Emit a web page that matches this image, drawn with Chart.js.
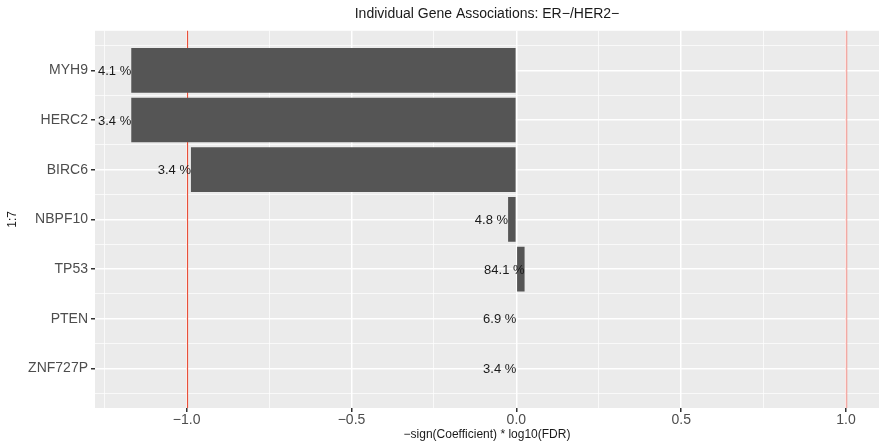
<!DOCTYPE html>
<html>
<head>
<meta charset="utf-8">
<script src="https://cdn.jsdelivr.net/npm/chart.js@4"></script>
<style>
  body { margin: 0; background: #fff; }
</style>
</head>
<body>
<canvas id="geneChart" width="879" height="444"></canvas>
<script>
// genes from top to bottom (y = 1..7)
const genes = ['MYH9', 'HERC2', 'BIRC6', 'NBPF10', 'TP53', 'PTEN', 'ZNF727P'];
const scores = [-1.168, -1.168, -0.987, -0.025, 0.025, 0, 0];
const pctLabels = ['4.1 %', '3.4 %', '3.4 %', '4.8 %', '84.1 %', '6.9 %', '3.4 %'];
const xMajor = [-1, -0.5, 0, 0.5, 1];
const xMinor = [-1.25, -0.75, -0.25, 0.25, 0.75];
const cutoffs = [-1, 1];

const FONT = "'Liberation Sans', Arial, sans-serif";

function fmt(v) {
    const s = Math.abs(v).toFixed(1);
    return v < 0 ? '\u2212' + s : s;
}
const isMajorX = v => xMajor.some(m => Math.abs(m - v) < 1e-9);
const isMajorY = v => Number.isInteger(v);

// grey panel behind the grid
const panelBg = {
    id: 'panelBg',
    beforeDraw(chart) {
        const { ctx, chartArea: a } = chart;
        ctx.save();
        ctx.fillStyle = '#EBEBEB';
        ctx.fillRect(a.left, a.top, a.right - a.left, a.bottom - a.top);
        ctx.restore();
    }
};

// red cutoff lines at -1 and 1, under the bars
const cutoffLines = {
    id: 'cutoffLines',
    beforeDatasetsDraw(chart) {
        const { ctx, chartArea: a, scales } = chart;
        ctx.save();
        cutoffs.forEach((c, i) => {
            const x = Math.round(scales.x.getPixelForValue(c)) + 0.5;
            ctx.strokeStyle = i === 0 ? '#e8503a' : 'rgba(240,120,110,0.6)';
            ctx.lineWidth = i === 0 ? 1.2 : 1.6;
            ctx.beginPath();
            ctx.moveTo(x, a.top);
            ctx.lineTo(x, a.bottom);
            ctx.stroke();
        });
        ctx.restore();
    }
};

// percentage labels, right aligned at the bar end
const pctText = {
    id: 'pctText',
    afterDatasetsDraw(chart) {
        const { ctx, scales } = chart;
        ctx.save();
        ctx.font = '13px ' + FONT;
        ctx.fillStyle = '#1a1a1a';
        ctx.textAlign = 'right';
        ctx.textBaseline = 'middle';
        genes.forEach((g, i) => {
            const x = scales.x.getPixelForValue(scores[i]);
            const y = scales.y.getPixelForValue(i + 1);
            ctx.fillText(pctLabels[i], x, y + 1);
        });
        ctx.restore();
    }
};

const ctx = document.getElementById('geneChart').getContext('2d');
new Chart(ctx, {
    type: 'bar',
    data: {
        datasets: [{
            data: genes.map((g, i) => ({ x: scores[i], y: i + 1 })),
            backgroundColor: '#555555',
            borderWidth: 0,
            // y ticks come every 0.5 (minor grid), so the bar ruler is half a row: 2 * 0.9
            barPercentage: 1.8,
            categoryPercentage: 1.0
        }]
    },
    options: {
        indexAxis: 'y',
        responsive: false,
        animation: false,
        layout: { padding: 0 },
        plugins: {
            legend: { display: false },
            tooltip: { enabled: false },
            title: {
                display: true,
                text: 'Individual Gene Associations: ER\u2212/HER2\u2212',
                color: '#1a1a1a',
                font: { family: FONT, size: 14, weight: 'normal' },
                padding: { top: 6, bottom: 8 },
                fullSize: false
            }
        },
        scales: {
            x: {
                type: 'linear',
                min: -1.278,
                max: 1.1,
                afterBuildTicks: scale => {
                    scale.ticks = xMajor.concat(xMinor).sort((a, b) => a - b).map(v => ({ value: v }));
                },
                afterFit: scale => { scale.height = 36; },
                border: { display: false },
                grid: {
                    color: '#ffffff',
                    lineWidth: c => isMajorX(c.tick.value) ? 1.5 : 0.7,
                    tickColor: c => isMajorX(c.tick.value) ? '#333333' : 'rgba(0,0,0,0)',
                    tickLength: 4,
                    drawTicks: true
                },
                ticks: {
                    autoSkip: false,
                    maxRotation: 0,
                    padding: 0,
                    color: '#4d4d4d',
                    font: { family: FONT, size: 14 },
                    callback: v => isMajorX(v) ? fmt(v) : ''
                },
                title: {
                    display: true,
                    text: '\u2212sign(Coefficient) * log10(FDR)',
                    color: '#1a1a1a',
                    font: { family: FONT, size: 12 },
                    padding: { top: 1, bottom: 2 }
                }
            },
            y: {
                type: 'linear',
                reverse: true,
                min: 0.205,
                max: 7.795,
                offset: false,
                afterBuildTicks: scale => {
                    const t = [];
                    for (let v = 0.5; v <= 7.5; v += 0.5) t.push({ value: v });
                    scale.ticks = t;
                },
                afterFit: scale => { scale.width = 95; },
                border: { display: false },
                grid: {
                    offset: false,
                    color: '#ffffff',
                    lineWidth: c => isMajorY(c.tick.value) ? 1.5 : 0.7,
                    tickColor: c => isMajorY(c.tick.value) ? '#333333' : 'rgba(0,0,0,0)',
                    tickLength: 4,
                    drawTicks: true
                },
                ticks: {
                    autoSkip: false,
                    padding: 3,
                    color: '#4d4d4d',
                    font: { family: FONT, size: 14 },
                    callback: v => isMajorY(v) ? genes[v - 1] : ''
                },
                title: {
                    display: true,
                    text: '1:7',
                    color: '#1a1a1a',
                    font: { family: FONT, size: 12 },
                    padding: { top: 5, bottom: 0 }
                }
            }
        }
    },
    plugins: [panelBg, cutoffLines, pctText]
});
</script>
</body>
</html>
